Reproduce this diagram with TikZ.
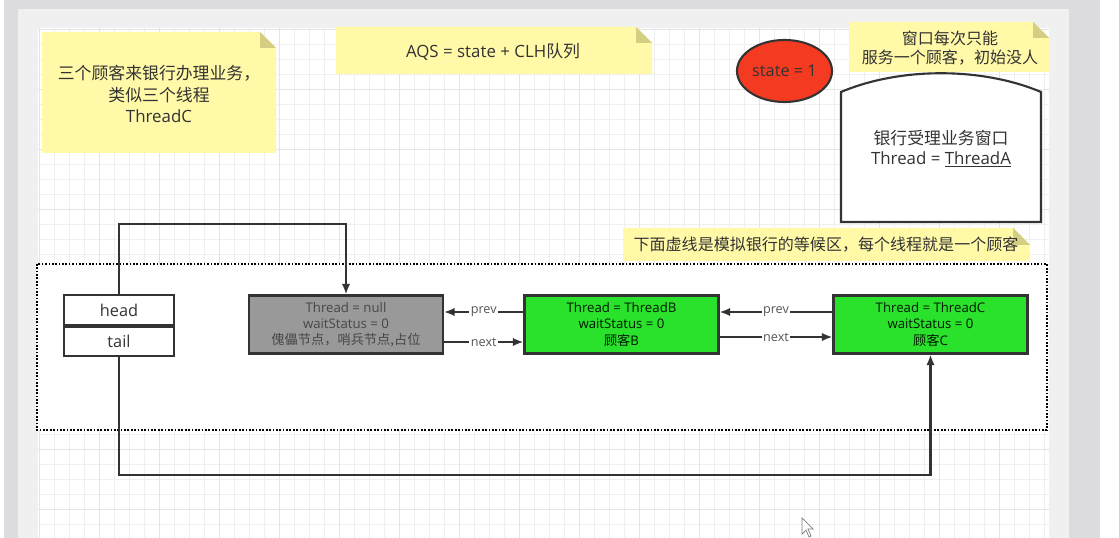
\documentclass[tikz,border=0pt]{standalone}
\usepackage{fontspec}
\setmainfont{Open Sans}
\newfontfamily\cjk{Noto Sans CJK SC}
\usetikzlibrary{arrows.meta,shapes.geometric}

\definecolor{notefill}{HTML}{FFF9A8}
\definecolor{notefold}{HTML}{D3CE82}
\definecolor{statered}{HTML}{F43B22}
\definecolor{waitgreen}{HTML}{2AE12C}
\definecolor{dummygray}{HTML}{999999}
\definecolor{inkgray}{HTML}{333333}
\definecolor{labelgray}{HTML}{555555}
\definecolor{edgegray}{HTML}{DCDCDF}
\definecolor{panelgray}{HTML}{F0F0F0}
\definecolor{gridminor}{HTML}{EFEFEF}
\definecolor{gridmajor}{HTML}{E4E4E4}

\tikzset{
    notepaper/.style={fill=notefill},
    notetext/.style={align=center, text=inkgray, inner sep=0pt, font=\fontsize{12}{15}\selectfont},
    queuenode/.style={draw=inkgray, line width=1.5pt, minimum width=4.85cm, minimum height=1.45cm,
        inner sep=0pt, align=center, font=\fontsize{9.4}{11.4}\selectfont},
    ptrbox/.style={draw=inkgray, line width=1.5pt, fill=white, minimum width=2.75cm, minimum height=0.73cm,
        inner sep=0pt, text=inkgray, font=\fontsize{11.6}{14}\selectfont},
    link/.style={draw=inkgray, line width=1.5pt, -{Latex[length=7.5pt,width=6pt]}},
    linklabel/.style={fill=white, inner sep=1pt, text=labelgray, font=\fontsize{9}{10}\selectfont},
    waitarea/.style={draw=black, fill=white, line width=1.4pt, dash pattern=on 1.2pt off 1.2pt}
}

\begin{document}
\begin{tikzpicture}[x=0.025cm, y=-0.025cm]
    \useasboundingbox (0,0) rectangle (1119,538);

    % editor window around the page
    \fill[white] (0,0) rectangle (1119,538);
    \fill[edgegray] (4,0) rectangle (1100,538);
    \fill[panelgray] (18,9) rectangle (1069,538);
    \fill[white] (38,28) rectangle (1049,538);
    \begin{scope}
        \clip (38,28) rectangle (1049,538);
        \foreach \gx in {0,...,67}
            \draw[gridminor, line width=0.5pt] ({39+15*\gx},28) -- ({39+15*\gx},538);
        \foreach \gy in {0,...,33}
            \draw[gridminor, line width=0.5pt] (38,{29+15*\gy}) -- (1049,{29+15*\gy});
        \foreach \gx in {0,...,16}
            \draw[gridmajor, line width=0.6pt] ({39+60*\gx},28) -- ({39+60*\gx},538);
        \foreach \gy in {0,...,8}
            \draw[gridmajor, line width=0.6pt] (38,{29+60*\gy}) -- (1049,{29+60*\gy});
    \end{scope}

    % waiting room
    \draw[waitarea] (37,264) rectangle (1047,430);

    % notes
    \path[notepaper] (42,32) -- (260,32) -- (276,48) -- (276,153) -- (42,153) -- cycle;
    \fill[notefold] (260,32) -- (276,48) -- (260,48) -- cycle;
    \node[notetext] (custnote) at (159,94) {{\cjk 三个顾客来银行办理业务，}\\{\cjk 类似三个线程}\\ThreadC};

    \path[notepaper] (336,27) -- (636,27) -- (652,43) -- (652,74) -- (336,74) -- cycle;
    \fill[notefold] (636,27) -- (652,43) -- (636,43) -- cycle;
    \node[notetext] (aqsnote) at (493,52) {AQS = state + CLH{\cjk 队列}};

    \path[notepaper] (850,22) -- (1033,22) -- (1049,38) -- (1049,72) -- (850,72) -- cycle;
    \fill[notefold] (1033,22) -- (1049,38) -- (1033,38) -- cycle;
    \node[notetext, font=\fontsize{11.4}{13.6}\selectfont\cjk] (winnote) at (950,48.5) {窗口每次只能\\服务一个顾客，初始没人};

    \path[notepaper] (623,228) -- (1013,228) -- (1030,245) -- (1030,261) -- (623,261) -- cycle;
    \fill[notefold] (1013,228) -- (1030,245) -- (1013,245) -- cycle;
    \node[notetext, font=\fontsize{11.4}{13.6}\selectfont\cjk] (waitnote) at (826,245) {下面虚线是模拟银行的等候区，每个线程就是一个顾客};

    % state and window
    \node[ellipse, draw=inkgray, line width=1.5pt, fill=statered, minimum width=2.375cm, minimum height=1.55cm,
        inner sep=0pt, text=inkgray, font=\fontsize{11.6}{13}\selectfont] (state) at (784.5,71) {state = 1};

    \path[draw=inkgray, line width=1.5pt, fill=white]
        (841,222) -- (841,92) .. controls (900,67) and (982,67) .. (1041,92) -- (1041,222) -- cycle;
    \node[notetext, font=\fontsize{12}{14.2}\selectfont] (window) at (941,149) {{\cjk 银行受理业务窗口}\\Thread = \underline{ThreadA}};

    % queue
    \node[ptrbox] (head) at (119,310) {head};
    \node[ptrbox, anchor=north] (tail) at (head.south) {tail};

    \node[queuenode, fill=dummygray, text=black!72] (dummy) at (346,324.5)
        {Thread = null\\waitStatus = 0\\{\cjk 傀儡节点，哨兵节点,占位}};
    \node[queuenode, fill=waitgreen, text=black!75!green!40!black] (nodeB) at (621.5,324.5)
        {Thread = ThreadB\\waitStatus = 0\\{\cjk 顾客}B};
    \node[queuenode, fill=waitgreen, text=black!75!green!40!black] (nodeC) at (930.5,324.5)
        {Thread = ThreadC\\waitStatus = 0\\{\cjk 顾客}C};

    \draw[link] (nodeB.west |- 0,312) -- node[linklabel] {prev} (dummy.east |- 0,312);
    \draw[link] (dummy.east |- 0,342) -- node[linklabel] {next} (nodeB.west |- 0,342);
    \draw[link] (nodeC.west |- 0,312) -- node[linklabel] {prev} (nodeB.east |- 0,312);
    \draw[link] (nodeB.east |- 0,337) -- node[linklabel] {next} (nodeC.west |- 0,337);

    \draw[link] (head.north) -- ++(0,-70) -| (dummy.north);
    \draw[link] (tail.south) -- ++(0,118) -| (nodeC.south);

    % mouse pointer
    \draw[gray, fill=white, line width=0.5pt] (802,518) -- (802,534) -- (806,530) -- (809,537) -- (811,536)
        -- (808,529) -- (813,529) -- cycle;
\end{tikzpicture}
\end{document}
